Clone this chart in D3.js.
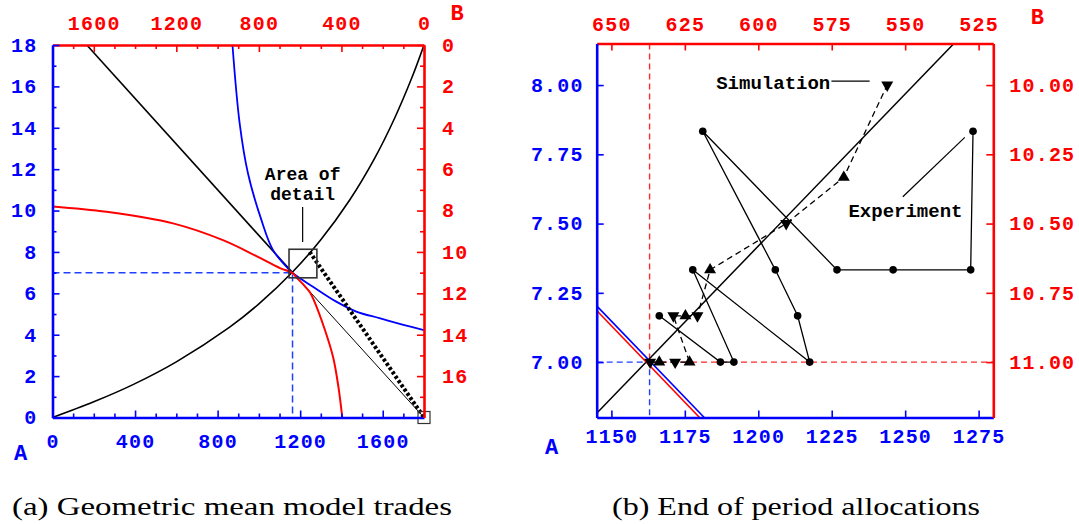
<!DOCTYPE html>
<html><head><meta charset="utf-8">
<script src="https://cdn.jsdelivr.net/npm/d3@7"></script>
<style>
body{margin:0;background:#fff}
svg{display:block}
.tk text{font-family:"Liberation Mono","Courier New",monospace;font-weight:bold;font-size:20px;letter-spacing:1.2px}
.lab{font-family:"Liberation Mono","Courier New",monospace;font-weight:bold}
.cap{font-family:"Liberation Serif","Times New Roman",serif;font-size:26px}
</style></head><body>
<svg id="fig" width="1079" height="524"></svg>
<script>
// ── data ──────────────────────────────────────────
// (a) whole box: A good on x (0..1800), B on y (0..18); B's holdings = totals minus A's
const contractA = [[0,0],[200,0.76],[390,1.59],[600,2.69],[855,4.34],[1000,5.49],[1163,7.03],[1300,8.59],[1440,10.51],[1560,12.51],[1657,14.45],[1740,16.39],[1800,18]];
const indiffA   = [[872,18],[907,14.2],[947,11.8],[1012,9.55],[1068,8.1],[1141,7.2],[1163,6.98],[1262,6.32],[1375,5.6],[1472,5.12],[1584,4.8],[1700,4.48],[1800,4.22]];
const indiffB   = [[0,10.2],[262,9.94],[584,9.38],[826,8.57],[988,7.8],[1102,7.22],[1163,6.98],[1183,6.76],[1215,6.43],[1247,6.05],[1264,5.72],[1320,4.23],[1360,2.9],[1385,1.5],[1404,0]];
const budgetHi  = [[166,18],[1163,7]];
const budgetLo  = [[1163,7],[1800,0]];
const tradeA    = [[1246,8.0],[1800,0]];
const detailBox = [[1146,6.75],[1281,8.13]];
const endowA    = [1800,0];
const eqPoint   = [1163,7];

// (b) zoomed box
const contractB  = [[1145,6.815],[1266.6,8.15]];
const indiffAb   = [[1145,7.203],[1181.6,6.8]];
const indiffBb   = [[1145,7.186],[1180,6.8]];
const experiment = [[1166.3,7.167],[1187.1,7],[1191.7,7],[1177.7,7.333],[1217.5,7],[1213.4,7.167],[1205.8,7.333],[1181.1,7.833],[1226.8,7.333],[1245.9,7.333],[1272.3,7.333],[1273.1,7.833]];
const simA   = [1163.2,1166.3,1171.7,1176.6,1171.1,1175.2,1179.3,1183.6,1209.5,1229.1,1243.9];
const simY   = [7,7,7,7,7.167,7.167,7.167,7.333,7.5,7.667,8.0];
const simDir = ["dn","up","dn","up","dn","up","dn","up","dn","up","dn"];

// ticks
const aX=[0,400,800,1200,1600], aY=[0,2,4,6,8,10,12,14,16,18];
const aTop=[0,400,800,1200,1600], aRight=[0,2,4,6,8,10,12,14,16];
const bX=[1150,1175,1200,1225,1250,1275], bY=[7,7.25,7.5,7.75,8];
const bTop=[650,625,600,575,550,525], bRight=[10,10.25,10.5,10.75,11];

const BLUE="#0000ff", RED="#ff0000", DBLUE="#2040ff", DRED="#ff2a2a";
const svg=d3.select("#fig");

// ── scales ───────────────────────────────────────
const xa=d3.scaleLinear().domain([0,1800]).range([52.5,424]);
const ya=d3.scaleLinear().domain([0,18]).range([417.5,45]);
const xaT=d3.scaleLinear().domain([1800,0]).range(xa.range());
const yaR=d3.scaleLinear().domain([18,0]).range(ya.range());

const xb=d3.scaleLinear().domain([1145,1280]).range([596.7,993.3]);
const yb=d3.scaleLinear().domain([6.8,8.15]).range([417.5,43.5]);
const xbT=d3.scaleLinear().domain([655,520]).range(xb.range());
const ybR=d3.scaleLinear().domain([11.2,9.85]).range(yb.range());

function clip(id,x,y){
  svg.append("clipPath").attr("id",id).append("rect")
    .attr("x",x.range()[0]).attr("y",y.range()[1])
    .attr("width",x.range()[1]-x.range()[0]).attr("height",y.range()[0]-y.range()[1]);
  return svg.append("g").attr("clip-path",`url(#${id})`);
}

function path(g,data,x,y,col,w,dash,curve){
  g.append("path").datum(data)
    .attr("d",d3.line().x(d=>x(d[0])).y(d=>y(d[1])).curve(curve||d3.curveLinear))
    .attr("fill","none").attr("stroke",col).attr("stroke-width",w)
    .attr("stroke-dasharray",dash||null);
}

function axis(gen,tr,col,vals,fmt,pad,len,dom){
  const a=svg.append("g").attr("class","tk").attr("transform",tr).attr("color",col)
    .call(gen.tickValues(vals).tickSizeInner(-len).tickSizeOuter(0).tickPadding(pad).tickFormat(fmt));
  a.selectAll(".tick line").attr("stroke-width",1.6);
  if(dom) a.select(".domain").attr("stroke-width",2.6); else a.select(".domain").remove();
}

const smooth=d3.curveCatmullRom.alpha(0.5);

// ══ panel (a) ══════════════════════════════════
const ga=clip("ca",xa,ya);
path(ga,[[0,eqPoint[1]],eqPoint,[eqPoint[0],0]],xa,ya,DBLUE,1.5,"7,4");
path(ga,contractA,xa,ya,"#000",1.6,null,smooth);
path(ga,budgetHi,xa,ya,"#000",1.6);
path(ga,budgetLo,xa,ya,"#000",1);
path(ga,indiffA,xa,ya,BLUE,1.8,null,smooth);
path(ga,indiffB,xa,ya,RED,2,null,smooth);
path(ga,tradeA,xa,ya,"#000",4,"3,2.2");
svg.append("rect")
  .attr("x",xa(detailBox[0][0])).attr("y",ya(detailBox[1][1]))
  .attr("width",xa(detailBox[1][0])-xa(detailBox[0][0])).attr("height",ya(detailBox[0][1])-ya(detailBox[1][1]))
  .attr("fill","none").attr("stroke","#333").attr("stroke-width",1.6);
svg.append("rect").attr("x",xa(endowA[0])-6).attr("y",ya(endowA[1])-6).attr("width",12).attr("height",12)
  .attr("fill","none").attr("stroke","#333").attr("stroke-width",1.2);

// "Area of detail"
svg.append("line").attr("x1",xa(1212)).attr("x2",xa(1212)).attr("y1",ya(10.17)).attr("y2",ya(8.48))
  .attr("stroke","#000").attr("stroke-width",1.2);
["Area of","detail"].forEach((t,i)=>svg.append("text").attr("class","lab")
  .attr("x",xa(1212)).attr("y",ya(11.48-i*0.96)).attr("text-anchor","middle")
  .attr("font-size",18).text(t));

const lM=d3.range(100,1800,100).filter(v=>v%400);
const odd=d3.range(1,18,2);
axis(d3.axisBottom(xa),`translate(0,${ya(0)})`,BLUE,lM,"",0,4,false);
axis(d3.axisTop(xaT),`translate(0,${ya(18)})`,RED,lM,"",0,4,false);
axis(d3.axisLeft(ya),`translate(${xa(0)},0)`,BLUE,odd,"",0,4,false);
axis(d3.axisRight(yaR),`translate(${xa(1800)},0)`,RED,odd,"",0,4,false);
axis(d3.axisBottom(xa),`translate(0,${ya(0)})`,BLUE,aX,d3.format("d"),16,7,true);
axis(d3.axisTop(xaT),`translate(0,${ya(18)})`,RED,aTop,d3.format("d"),15,7,true);
axis(d3.axisLeft(ya),`translate(${xa(0)},0)`,BLUE,aY,d3.format("d"),15,7,true);
axis(d3.axisRight(yaR),`translate(${xa(1800)},0)`,RED,aRight,d3.format("d"),18,7,true);

svg.append("text").attr("class","lab").attr("x",xa(0)-32).attr("y",ya(0)+42).attr("text-anchor","middle")
  .attr("font-size",22).attr("fill",BLUE).text("A");
svg.append("text").attr("class","lab").attr("x",xa(1800)+33).attr("y",ya(18)-25).attr("text-anchor","middle")
  .attr("font-size",22).attr("fill",RED).text("B");

// ══ panel (b) ══════════════════════════════════
const gb=clip("cb",xb,yb);
path(gb,[[1145,7],[eqPoint[0],7],[eqPoint[0],6.8]],xb,yb,DBLUE,1.4,"6,4");
path(gb,[[eqPoint[0],8.15],[eqPoint[0],7],[1280,7]],xb,yb,DRED,1.4,"6,4");
path(gb,contractB,xb,yb,"#000",1.5);
path(gb,indiffAb,xb,yb,BLUE,1.6);
path(gb,indiffBb,xb,yb,RED,1.6);
path(gb,experiment,xb,yb,"#000",1.3);
path(gb,simA.map((a,i)=>[a,simY[i]]),xb,yb,"#000",1.3,"6,4");
gb.selectAll(".exp").data(experiment).join("circle").attr("class","exp")
  .attr("cx",d=>xb(d[0])).attr("cy",d=>yb(d[1])).attr("r",3.8).attr("fill","#000");
gb.selectAll(".sim").data(simA).join("path").attr("class","sim")
  .attr("transform",(a,i)=>`translate(${xb(a)},${yb(simY[i])})${simDir[i]==="dn"?" rotate(180)":""}`)
  .attr("d",d3.symbol(d3.symbolTriangle,62)).attr("fill","#000");

// labels
svg.append("text").attr("class","lab").attr("x",xb(1224.5)).attr("y",yb(8.011)).attr("dy","0.35em")
  .attr("text-anchor","end").attr("font-size",19).text("Simulation");
svg.append("line").attr("x1",xb(1224.9)).attr("x2",xb(1237.9)).attr("y1",yb(8.014)).attr("y2",yb(8.014))
  .attr("stroke","#000").attr("stroke-width",1.2);
svg.append("text").attr("class","lab").attr("x",xb(1250.1)).attr("y",yb(7.546)).attr("dy","0.35em")
  .attr("text-anchor","middle").attr("font-size",19).text("Experiment");
svg.append("line").attr("x1",xb(1270.3)).attr("y1",yb(7.811)).attr("x2",xb(1249.2)).attr("y2",yb(7.597))
  .attr("stroke","#000").attr("stroke-width",1.2);

axis(d3.axisBottom(xb),`translate(0,${yb(6.8)})`,BLUE,bX,d3.format("d"),11,7,true);
axis(d3.axisTop(xbT),`translate(0,${yb(8.15)})`,RED,bTop,d3.format("d"),13,7,true);
axis(d3.axisLeft(yb),`translate(${xb(1145)},0)`,BLUE,bY,d3.format(".2f"),13,7,true);
axis(d3.axisRight(ybR),`translate(${xb(1280)},0)`,RED,bRight,d3.format(".2f"),16,7,true);

svg.append("text").attr("class","lab").attr("x",xb(1145)-45).attr("y",yb(6.8)+36).attr("text-anchor","middle")
  .attr("font-size",22).attr("fill",BLUE).text("A");
svg.append("text").attr("class","lab").attr("x",xb(1280)+44).attr("y",yb(8.15)-20).attr("text-anchor","middle")
  .attr("font-size",22).attr("fill",RED).text("B");

// captions
svg.append("text").attr("class","cap").attr("x",232).attr("y",515).attr("text-anchor","middle")
  .attr("textLength",440).attr("lengthAdjust","spacingAndGlyphs").text("(a) Geometric mean model trades");
svg.append("text").attr("class","cap").attr("x",796).attr("y",515).attr("text-anchor","middle")
  .attr("textLength",368).attr("lengthAdjust","spacingAndGlyphs").text("(b) End of period allocations");
</script>
</body></html>
